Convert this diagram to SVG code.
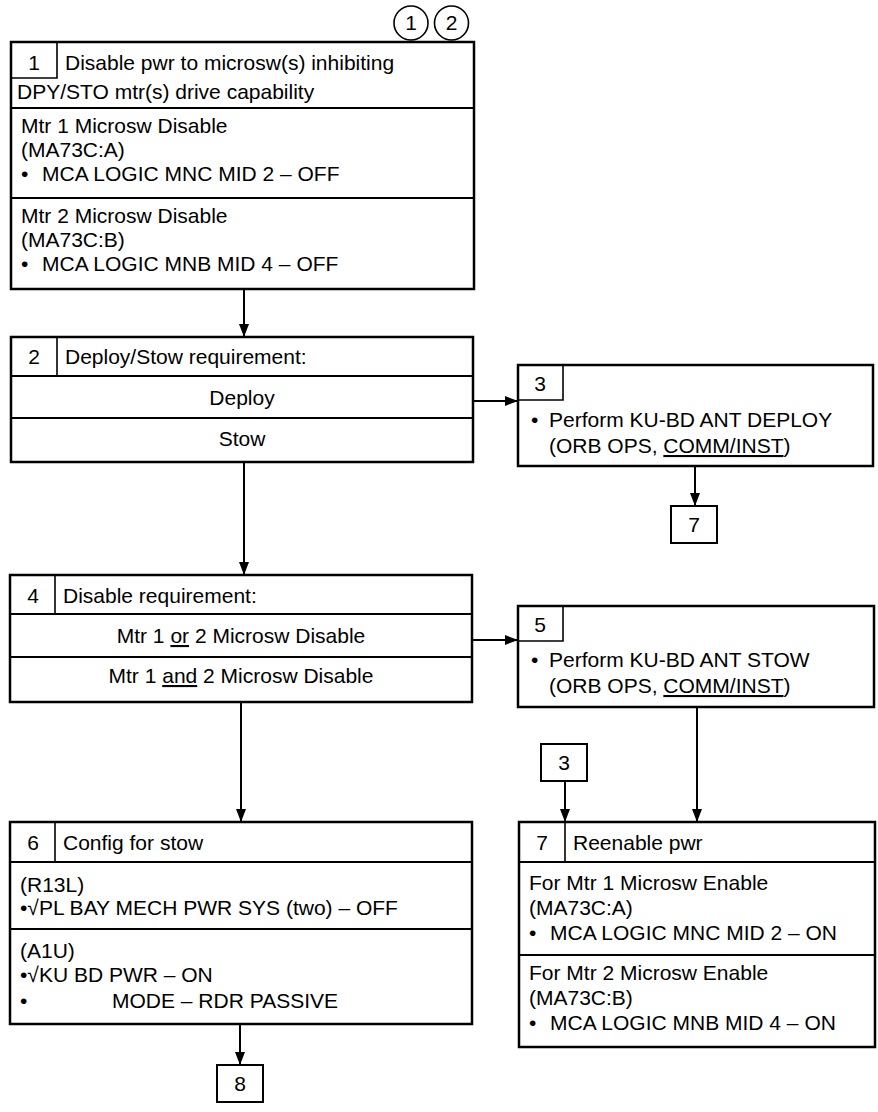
<svg xmlns="http://www.w3.org/2000/svg" width="878" height="1112" viewBox="0 0 878 1112">
<style>
text{font-family:"Liberation Sans",Arial,"DejaVu Sans",sans-serif;font-size:21px;fill:#000}
.c{text-anchor:middle}
.box{fill:#fff;stroke:#000;stroke-width:2.5}
.div{stroke:#000;stroke-width:2;fill:none}
.num{stroke:#000;stroke-width:1.6;fill:none}
.conn{stroke:#000;stroke-width:2;fill:none;marker-end:url(#ah)}
.u{text-decoration:underline}
</style>
<defs>
<marker id="ah" markerUnits="userSpaceOnUse" markerWidth="13" markerHeight="12" viewBox="0 0 13 12" refX="13" refY="6" orient="auto">
<path d="M0,1 L13,6 L0,11 Z" fill="#000"/>
</marker>
</defs>
<g id="circles">
<circle cx="411" cy="23" r="17" fill="none" stroke="#000" stroke-width="1.6"/>
<text class="c" x="411" y="30">1</text>
<circle cx="451.5" cy="23" r="17" fill="none" stroke="#000" stroke-width="1.6"/>
<text class="c" x="451.5" y="30">2</text>
</g>
<g id="connectors">
<line class="conn" x1="244" y1="289" x2="244" y2="337"/>
<line class="conn" x1="473" y1="401" x2="518" y2="401"/>
<line class="conn" x1="695" y1="466" x2="695" y2="506"/>
<line class="conn" x1="244" y1="462" x2="244" y2="575"/>
<line class="conn" x1="472" y1="640" x2="518" y2="640"/>
<line class="conn" x1="241" y1="702" x2="241" y2="822"/>
<line class="conn" x1="697" y1="707" x2="697" y2="822"/>
<line class="conn" x1="565" y1="781" x2="565" y2="822"/>
<line class="conn" x1="240" y1="1024" x2="240" y2="1065"/>
</g>
<g id="node1">
<rect class="box" x="11" y="42" width="463" height="247"/>
<path class="num" d="M11,78 H57 V42"/>
<line class="div" x1="11" y1="108" x2="474" y2="108"/>
<line class="div" x1="11" y1="198" x2="474" y2="198"/>
<text class="c" x="34" y="70">1</text>
<text x="65" y="70">Disable pwr to microsw(s) inhibiting</text>
<text x="17" y="99">DPY/STO mtr(s) drive capability</text>
<text x="21" y="133">Mtr 1 Microsw Disable</text>
<text x="21" y="157">(MA73C:A)</text>
<text x="21" y="181">•</text><text x="42" y="181">MCA LOGIC MNC MID 2 – OFF</text>
<text x="21" y="223">Mtr 2 Microsw Disable</text>
<text x="21" y="247">(MA73C:B)</text>
<text x="21" y="271">•</text><text x="42" y="271">MCA LOGIC MNB MID 4 – OFF</text>
</g>
<g id="node2">
<rect class="box" x="11" y="337" width="462" height="125"/>
<line class="num" x1="57" y1="337" x2="57" y2="376"/>
<line class="div" x1="11" y1="376" x2="473" y2="376"/>
<line class="div" x1="11" y1="418" x2="473" y2="418"/>
<text class="c" x="34" y="364">2</text>
<text x="65" y="364">Deploy/Stow requirement:</text>
<text class="c" x="242" y="405">Deploy</text>
<text class="c" x="242" y="446">Stow</text>
</g>
<g id="node3">
<rect class="box" x="518" y="365" width="355" height="101"/>
<path class="num" d="M518,400 H563 V365"/>
<text class="c" x="540" y="391">3</text>
<text x="531" y="427">•</text><text x="549" y="427">Perform KU-BD ANT DEPLOY</text>
<text x="549" y="453">(ORB OPS, <tspan class="u">COMM/INST</tspan>)</text>
</g>
<g id="node3ref7">
<rect x="671" y="506" width="46" height="37" fill="#fff" stroke="#000" stroke-width="2"/>
<text class="c" x="694" y="532">7</text>
</g>
<g id="node4">
<rect class="box" x="10" y="575" width="462" height="127"/>
<line class="num" x1="55" y1="575" x2="55" y2="614"/>
<line class="div" x1="10" y1="614" x2="472" y2="614"/>
<line class="div" x1="10" y1="657" x2="472" y2="657"/>
<text class="c" x="33" y="603">4</text>
<text x="63" y="603">Disable requirement:</text>
<text class="c" x="241" y="643">Mtr 1 <tspan class="u">or</tspan> 2 Microsw Disable</text>
<text class="c" x="241" y="683">Mtr 1 <tspan class="u">and</tspan> 2 Microsw Disable</text>
</g>
<g id="node5">
<rect class="box" x="518" y="606" width="356" height="101"/>
<path class="num" d="M518,641 H563 V606"/>
<text class="c" x="540" y="632">5</text>
<text x="531" y="667">•</text><text x="549" y="667">Perform KU-BD ANT STOW</text>
<text x="549" y="693">(ORB OPS, <tspan class="u">COMM/INST</tspan>)</text>
</g>
<g id="node5ref3">
<rect x="541" y="744" width="46" height="37" fill="#fff" stroke="#000" stroke-width="2"/>
<text class="c" x="564" y="770">3</text>
</g>
<g id="node6">
<rect class="box" x="10" y="822" width="462" height="202"/>
<line class="num" x1="55" y1="822" x2="55" y2="862"/>
<line class="div" x1="10" y1="862" x2="472" y2="862"/>
<line class="div" x1="10" y1="929" x2="472" y2="929"/>
<text class="c" x="33" y="850">6</text>
<text x="63" y="850">Config for stow</text>
<text x="20" y="892">(R13L)</text>
<text x="20" y="915">•√PL BAY MECH PWR SYS (two) – OFF</text>
<text x="20" y="958">(A1U)</text>
<text x="20" y="982">•√KU BD PWR – ON</text>
<text x="20" y="1008">•</text><text x="112" y="1008">MODE – RDR PASSIVE</text>
</g>
<g id="node6ref8">
<rect x="217" y="1065" width="46" height="37" fill="#fff" stroke="#000" stroke-width="2"/>
<text class="c" x="240" y="1091">8</text>
</g>
<g id="node7">
<rect class="box" x="519" y="822" width="356" height="225"/>
<line class="num" x1="565" y1="822" x2="565" y2="862"/>
<line class="div" x1="519" y1="862" x2="875" y2="862"/>
<line class="div" x1="519" y1="955" x2="875" y2="955"/>
<text class="c" x="542" y="850">7</text>
<text x="573" y="850">Reenable pwr</text>
<text x="529" y="890">For Mtr 1 Microsw Enable</text>
<text x="529" y="915">(MA73C:A)</text>
<text x="529" y="940">•</text><text x="550" y="940">MCA LOGIC MNC MID 2 – ON</text>
<text x="529" y="980">For Mtr 2 Microsw Enable</text>
<text x="529" y="1005">(MA73C:B)</text>
<text x="529" y="1030">•</text><text x="550" y="1030">MCA LOGIC MNB MID 4 – ON</text>
</g>
</svg>
